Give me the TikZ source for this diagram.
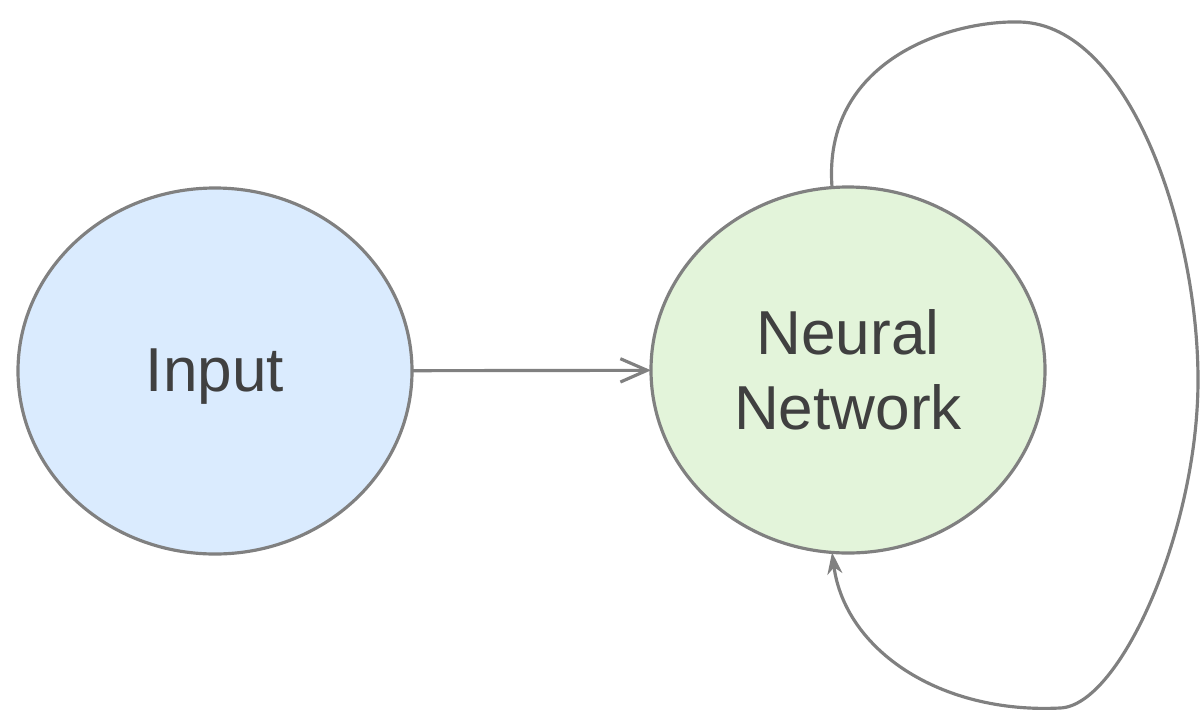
\documentclass[tikz,border=0pt]{standalone}
\usepackage{fontspec}
\setmainfont{Liberation Sans}
\usetikzlibrary{shapes.geometric,arrows.meta}
\definecolor{inblue}{HTML}{DAEBFE}
\definecolor{nngreen}{HTML}{E3F4DA}
\definecolor{edgegray}{HTML}{808080}
\definecolor{txt}{HTML}{404040}
\tikzset{
  bub/.style={ellipse, draw=edgegray, line width=0.095cm, minimum width=11.82cm, minimum height=10.98cm, inner sep=0pt, outer sep=0pt, text=txt, font=\fontsize{53}{64}\selectfont, align=center},
  conn/.style={draw=edgegray, line width=0.095cm}
}
\begin{document}
\begin{tikzpicture}[x=0.03cm,y=-0.03cm]
\useasboundingbox (0,0) rectangle (1201,714);
\node[bub, fill=inblue] (in) at (215,371) {\raisebox{-0.18cm}[\height][\depth]{Input}};
\node[bub, fill=nngreen] (nn) at (848,370) {Neural\\Network};
\draw[conn, -{Straight Barb[length=0.8cm,width=0.7cm,line width=0.095cm]}] (in) -- (nn);
\draw[conn, -{Stealth[length=0.65cm,width=0.45cm,inset=0.2cm]}] (nn.95) .. controls (822,60) and (950,20) .. (1020,22)
  .. controls (1130,25) and (1198,230) .. (1198,380)
  .. controls (1198,530) and (1120,706) .. (1060,708)
  .. controls (940,714) and (845,650) .. (nn.265);
\end{tikzpicture}
\end{document}
